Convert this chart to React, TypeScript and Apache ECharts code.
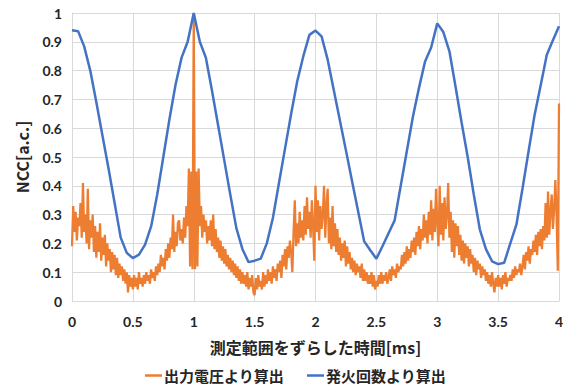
import React, { useEffect, useRef } from "react";
import * as echarts from "echarts";

const xTicks = ["0", "0.5", "1", "1.5", "2", "2.5", "3", "3.5", "4"];
const seriesNames = ["出力電圧より算出", "発火回数より算出"];
const xAxisName = "測定範囲をずらした時間[ms]";
const yAxisName = "NCC[a.c.]";

// 発火回数より算出: sampled every 0.05 ms from 0 to 4
const blueStep = 0.05;
const blueValues = [
  0.94, 0.937, 0.884, 0.80, 0.69, 0.575, 0.46, 0.34, 0.22, 0.167, 0.149, 0.161, 0.196, 0.259, 0.37, 0.50, 0.63, 0.75, 0.845, 0.90,
  1.0, 0.90, 0.844, 0.73, 0.61, 0.49, 0.37, 0.253, 0.18, 0.135, 0.14, 0.147, 0.20, 0.288, 0.41, 0.53, 0.65, 0.763, 0.85, 0.924,
  0.939, 0.919, 0.838, 0.733, 0.628, 0.523, 0.417, 0.312, 0.207, 0.176, 0.147, 0.19, 0.235, 0.28, 0.40, 0.52, 0.64, 0.74, 0.832, 0.88,
  0.964, 0.934, 0.867, 0.745, 0.62, 0.50, 0.37, 0.248, 0.18, 0.138, 0.128, 0.133, 0.20, 0.265, 0.39, 0.52, 0.647, 0.75, 0.855, 0.905,
  0.954,
];

// 出力電圧より算出: sampled every 0.01 ms from 0 to 4
const orangeStep = 0.01;
const orangeValues = [
  0.19, 0.33, 0.24, 0.31, 0.21, 0.29, 0.26, 0.34, 0.22, 0.41,
  0.24, 0.30, 0.20, 0.39, 0.18, 0.28, 0.22, 0.30, 0.17, 0.26,
  0.15, 0.24, 0.17, 0.27, 0.14, 0.22, 0.16, 0.23, 0.12, 0.20,
  0.14, 0.18, 0.10, 0.17, 0.11, 0.16, 0.09, 0.15, 0.08, 0.13,
  0.09, 0.12, 0.07, 0.11, 0.06, 0.10, 0.03, 0.09, 0.05, 0.08,
  0.04, 0.09, 0.05, 0.08, 0.04, 0.10, 0.06, 0.08, 0.05, 0.09,
  0.06, 0.10, 0.07, 0.09, 0.06, 0.11, 0.08, 0.10, 0.07, 0.12,
  0.09, 0.13, 0.10, 0.16, 0.12, 0.15, 0.11, 0.18, 0.14, 0.20,
  0.15, 0.22, 0.18, 0.30, 0.17, 0.24, 0.19, 0.27, 0.28, 0.21,
  0.25, 0.20, 0.29, 0.22, 0.33, 0.26, 0.46, 0.12, 0.45, 0.11,
  1.00, 0.11, 0.45, 0.12, 0.46, 0.26, 0.33, 0.22, 0.30, 0.24,
  0.28, 0.20, 0.26, 0.21, 0.28, 0.19, 0.30, 0.18, 0.25, 0.17,
  0.22, 0.15, 0.21, 0.14, 0.19, 0.13, 0.18, 0.12, 0.16, 0.11,
  0.15, 0.10, 0.14, 0.09, 0.13, 0.08, 0.12, 0.07, 0.11, 0.06,
  0.10, 0.06, 0.09, 0.05, 0.10, 0.04, 0.08, 0.05, 0.09, 0.03,
  0.02, 0.08, 0.04, 0.09, 0.05, 0.07, 0.04, 0.10, 0.05, 0.09,
  0.06, 0.11, 0.07, 0.10, 0.06, 0.12, 0.08, 0.11, 0.07, 0.13,
  0.10, 0.14, 0.08, 0.16, 0.12, 0.18, 0.11, 0.19, 0.15, 0.21,
  0.17, 0.10, 0.24, 0.35, 0.19, 0.27, 0.20, 0.31, 0.22, 0.28,
  0.21, 0.33, 0.23, 0.36, 0.25, 0.31, 0.22, 0.35, 0.26, 0.14,
  0.40, 0.24, 0.35, 0.21, 0.33, 0.25, 0.30, 0.40, 0.22, 0.33,
  0.39, 0.20, 0.29, 0.18, 0.33, 0.19, 0.27, 0.17, 0.25, 0.16,
  0.22, 0.14, 0.20, 0.15, 0.21, 0.12, 0.19, 0.13, 0.17, 0.11,
  0.15, 0.10, 0.14, 0.09, 0.13, 0.10, 0.12, 0.08, 0.13, 0.07,
  0.11, 0.07, 0.10, 0.06, 0.09, 0.06, 0.10, 0.05, 0.09, 0.04,
  0.07, 0.05, 0.09, 0.06, 0.10, 0.06, 0.09, 0.07, 0.10, 0.06,
  0.08, 0.11, 0.07, 0.12, 0.09, 0.11, 0.08, 0.13, 0.10, 0.12,
  0.11, 0.16, 0.12, 0.17, 0.13, 0.19, 0.14, 0.18, 0.15, 0.21,
  0.17, 0.22, 0.16, 0.24, 0.19, 0.26, 0.18, 0.25, 0.21, 0.30,
  0.22, 0.28, 0.20, 0.31, 0.23, 0.35, 0.21, 0.32, 0.24, 0.39,
  0.27, 0.19, 0.40, 0.23, 0.34, 0.21, 0.36, 0.25, 0.30, 0.41,
  0.22, 0.31, 0.17, 0.28, 0.15, 0.27, 0.19, 0.26, 0.16, 0.23,
  0.14, 0.21, 0.13, 0.20, 0.15, 0.19, 0.12, 0.18, 0.13, 0.16,
  0.10, 0.15, 0.09, 0.14, 0.11, 0.13, 0.08, 0.12, 0.09, 0.11,
  0.07, 0.10, 0.06, 0.09, 0.05, 0.10, 0.06, 0.03, 0.08, 0.05,
  0.09, 0.05, 0.08, 0.04, 0.09, 0.06, 0.10, 0.05, 0.08, 0.07,
  0.09, 0.07, 0.11, 0.08, 0.12, 0.09, 0.11, 0.10, 0.13, 0.09,
  0.12, 0.16, 0.11, 0.17, 0.14, 0.19, 0.13, 0.18, 0.16, 0.21,
  0.17, 0.23, 0.16, 0.24, 0.19, 0.25, 0.18, 0.26, 0.21, 0.34,
  0.22, 0.38, 0.23, 0.31, 0.37, 0.25, 0.32, 0.42, 0.30, 0.105,
  0.686,
];

const ORANGE = "#ED7D31";
const BLUE = "#4472C4";
const GRID = "#D9D9D9";
const TEXT = "#262626";
const NUM_FONT = "Lato, 'Noto Sans CJK JP', sans-serif";
const CJK_FONT = "'Noto Sans CJK JP', sans-serif";

export default function App() {
  const ref = useRef<HTMLDivElement>(null);

  useEffect(() => {
    if (!ref.current) return;
    const chart = echarts.init(ref.current, undefined, { renderer: "svg" });
    const orangeData = orangeValues.map((v, i) => [+(i * orangeStep).toFixed(2), v]);
    const blueData = blueValues.map((v, i) => [+(i * blueStep).toFixed(2), v]);
    chart.setOption({
      animation: false,
      backgroundColor: "#ffffff",
      grid: { left: 72, top: 13, right: 12, bottom: 85, containLabel: false },
      xAxis: {
        type: "value",
        min: 0,
        max: 4,
        interval: 0.5,
        name: xAxisName,
        nameLocation: "middle",
        nameGap: 38,
        nameTextStyle: { fontFamily: CJK_FONT, fontSize: 16, fontWeight: "bold", color: TEXT },
        axisLine: { show: true, lineStyle: { color: GRID, width: 1 } },
        axisTick: { show: false },
        splitLine: { show: true, lineStyle: { color: GRID, width: 1 } },
        axisLabel: {
          margin: 13,
          fontFamily: NUM_FONT,
          fontSize: 14,
          fontWeight: "bold",
          color: TEXT,
          formatter: (v: number) => xTicks[Math.round(v / 0.5)] ?? String(v),
        },
      },
      yAxis: {
        type: "value",
        min: 0,
        max: 1,
        interval: 0.1,
        name: yAxisName,
        nameLocation: "middle",
        nameGap: 42,
        nameRotate: 90,
        nameTextStyle: { fontFamily: CJK_FONT, fontSize: 16, fontWeight: "bold", color: TEXT },
        axisLine: { show: true, lineStyle: { color: GRID, width: 1 } },
        axisTick: { show: false },
        splitLine: { show: true, lineStyle: { color: GRID, width: 1 } },
        axisLabel: {
          margin: 10,
          fontFamily: NUM_FONT,
          fontSize: 14,
          fontWeight: "bold",
          color: TEXT,
          formatter: (v: number) => String(Math.round(v * 10) / 10),
        },
      },
      legend: {
        show: true,
        top: 367,
        left: 145,
        padding: 0,
        icon: "rect",
        itemWidth: 17,
        itemHeight: 2.5,
        itemGap: 23,
        textStyle: {
          fontFamily: CJK_FONT,
          fontSize: 15,
          fontWeight: "bold",
          color: TEXT,
          lineHeight: 17,
          padding: [0, 0, 0, -3],
        },
        data: seriesNames,
      },
      series: [
        {
          name: seriesNames[0],
          type: "line",
          data: orangeData,
          showSymbol: false,
          symbol: "none",
          lineStyle: { color: ORANGE, width: 2.25 },
          itemStyle: { color: ORANGE },
          z: 2,
        },
        {
          name: seriesNames[1],
          type: "line",
          data: blueData,
          showSymbol: false,
          symbol: "none",
          lineStyle: { color: BLUE, width: 2.5 },
          itemStyle: { color: BLUE },
          z: 3,
        },
      ],
    });
    return () => chart.dispose();
  }, []);

  return (
    <div
      ref={ref}
      style={{ position: "fixed", left: 0, top: 0, width: 571, height: 386, background: "#fff" }}
    />
  );
}
